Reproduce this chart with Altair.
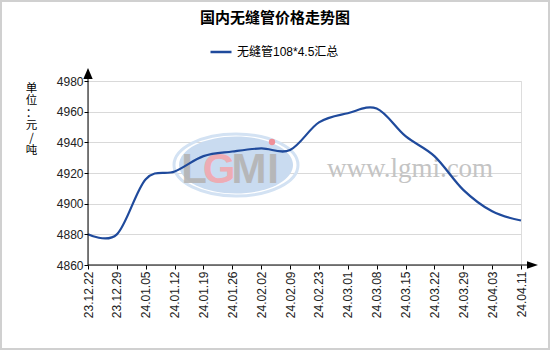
import altair as alt
import pandas as pd

dates = ["23.12.22", "23.12.29", "24.01.05", "24.01.12", "24.01.19", "24.01.26",
         "24.02.02", "24.02.09", "24.02.23", "24.03.01", "24.03.08", "24.03.15",
         "24.03.22", "24.03.29", "24.04.03", "24.04.11"]
prices = [4880, 4880, 4916, 4921, 4931, 4934, 4936, 4935,
          4953, 4959, 4962, 4944, 4931, 4909, 4895, 4889]
series_name = "无缝管108*4.5汇总"
y_ticks = [4860, 4880, 4900, 4920, 4940, 4960, 4980]

df = pd.DataFrame({"date": dates, "price": prices, "series": series_name})

W, H = 433, 184
LINE_COLOR = "#1f4a9c"
CJK = "Liberation Sans, Noto Sans CJK SC"

one = alt.Data(values=[{"k": 1}])

x_enc = alt.X("date:N", sort=dates, scale=alt.Scale(padding=0),
              axis=alt.Axis(title=None, labelAngle=-90, labelFontSize=12,
                            labelColor="#222", labelFont="Liberation Sans",
                            tickSize=4, tickColor="#000", domain=False,
                            grid=False, labelPadding=2))
y_enc = alt.Y("price:Q", scale=alt.Scale(domain=[4860, 4980], nice=False, zero=False),
              axis=alt.Axis(values=y_ticks, format="d",
                            title=["单", "位", "：", "元", "/", "吨"],
                            titleAngle=0, titleX=-57, titleY=1, titleAlign="center",
                            titleBaseline="top", titleFontSize=11.5, titleFontWeight="normal",
                            titleFont="Noto Sans CJK SC", titleLineHeight=12.5,
                            titleColor="#000",
                            labelFontSize=12, labelColor="#222", labelFont="Liberation Sans",
                            tickSize=4, tickColor="#000", domain=False, labelPadding=1,
                            grid=True, gridColor="#d9d9d9", gridWidth=1))

# watermark logo
ellipse = "M-1,0 A1,0.5 0 1,1 1,0 A1,0.5 0 1,1 -1,0 Z"
logo_outer = alt.Chart(one).mark_point(shape=ellipse, size=124 * 124, filled=False,
                                       stroke="#d3e2f3", strokeWidth=3, opacity=1).encode(
    x=alt.value(148), y=alt.value(84))
logo_inner = alt.Chart(one).mark_point(shape=ellipse, size=114 * 114, filled=True,
                                       fill="#c9dbf0", opacity=1).encode(
    x=alt.value(148), y=alt.value(84))

def letter(ch, x, color):
    return alt.Chart(one).mark_text(text=ch, font="Liberation Sans", fontSize=42,
                                    fontWeight="bold", color=color, align="center",
                                    baseline="alphabetic", opacity=0.9).encode(
        x=alt.value(x), y=alt.value(102))

letters = [letter("L", 106, "#b4b4b4"), letter("G", 131, "#f2a7ae"),
           letter("M", 161, "#b4b4b4"), letter("I", 185, "#b4b4b4")]
dot = alt.Chart(one).mark_point(shape="circle", size=40, filled=True, color="#ef8f98",
                                opacity=1).encode(x=alt.value(184), y=alt.value(61))

site = alt.Chart(one).mark_text(text="www.lgmi.com", font="Liberation Serif", fontSize=27,
                                color="#c4c4c4", align="center",
                                baseline="alphabetic").encode(
    x=alt.value(322), y=alt.value(96))

line = alt.Chart(df).mark_line(interpolate="cardinal", strokeWidth=2.2).encode(
    x=x_enc, y=y_enc,
    color=alt.Color("series:N", scale=alt.Scale(range=[LINE_COLOR]),
                    legend=alt.Legend(title=None, orient="none", legendX=121, legendY=-41,
                                      symbolType="stroke", symbolSize=441,
                                      symbolStrokeWidth=2.5, labelFontSize=12,
                                      labelFont=CJK, labelColor="#000", padding=0,
                                      symbolStrokeColor=LINE_COLOR)))

# axis lines with arrows
x_axis_line = alt.Chart(one).mark_rule(color="#000", strokeWidth=1).encode(
    x=alt.value(0), x2=alt.value(440), y=alt.value(H))
y_axis_line = alt.Chart(one).mark_rule(color="#000", strokeWidth=1).encode(
    x=alt.value(0), y=alt.value(-6), y2=alt.value(H))
x_arrow = alt.Chart(one).mark_point(shape="M-1,-0.7 L1,0 L-1,0.7 Z", size=121, filled=True,
                                    color="#000", opacity=1).encode(
    x=alt.value(444.5), y=alt.value(H))
y_arrow = alt.Chart(one).mark_point(shape="M0,-1 L0.85,1 L-0.85,1 Z", size=121, filled=True,
                                    color="#000", opacity=1).encode(
    x=alt.value(0), y=alt.value(-7.5))

title = alt.Chart(one).mark_text(text="国内无缝管价格走势图", font="Noto Sans CJK SC",
                                 fontSize=15, fontWeight="bold", color="#000",
                                 align="center", baseline="middle").encode(
    x=alt.value(187), y=alt.value(-63))

border = alt.Chart(one).mark_rect(fill=None, stroke="#d0d0d0", strokeWidth=2).encode(
    x=alt.value(-87), x2=alt.value(461), y=alt.value(-80), y2=alt.value(268))

chart = alt.layer(
    logo_outer, logo_inner, *letters, dot, site, line,
    x_axis_line, y_axis_line, x_arrow, y_arrow, title, border
).properties(
    width=W, height=H,
    autosize=alt.AutoSizeParams(type="none"),
    padding={"left": 88, "top": 81, "right": 29, "bottom": 85},
).configure_view(stroke=None).configure(background="white")

chart.save("out.html", embed_options={"renderer": "svg", "actions": False})
